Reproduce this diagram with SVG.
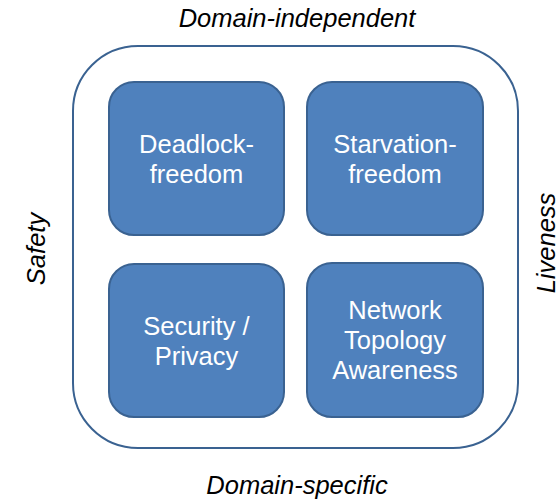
<svg xmlns="http://www.w3.org/2000/svg" width="559" height="500" viewBox="0 0 559 500">
<style>
.box{fill:#4F81BD;stroke:#3A6291;stroke-width:2}
.bt{font-family:"Liberation Sans",Arial,sans-serif;font-size:25.5px;fill:#fff;text-anchor:middle}
.lab{font-family:"Liberation Sans",Arial,sans-serif;font-size:25.5px;font-style:italic;fill:#000;text-anchor:middle}
</style>
<rect width="559" height="500" fill="#fff"/>
<g id="frame"><rect x="73" y="46" width="445" height="402" rx="65" ry="65" fill="none" stroke="#3A6291" stroke-width="2"/></g>
<g id="connectors"></g>
<g id="deadlock"><rect class="box" x="109" y="82" width="175" height="153" rx="25"/>
<text class="bt" x="196.5" y="153">Deadlock-</text><text class="bt" x="196.5" y="183">freedom</text></g>
<g id="starvation"><rect class="box" x="307" y="82" width="176" height="153" rx="25"/>
<text class="bt" x="395" y="153">Starvation-</text><text class="bt" x="395" y="183">freedom</text></g>
<g id="security"><rect class="box" x="109" y="264" width="175" height="153" rx="25"/>
<text class="bt" x="196.5" y="335">Security /</text><text class="bt" x="196.5" y="365">Privacy</text></g>
<g id="network"><rect class="box" x="307" y="263" width="176" height="154" rx="25"/>
<text class="bt" x="395" y="319">Network</text><text class="bt" x="395" y="349">Topology</text><text class="bt" x="395" y="379">Awareness</text></g>
<g id="labels">
<text class="lab" x="297" y="27">Domain-independent</text>
<text class="lab" x="297" y="494">Domain-specific</text>
<text class="lab" transform="translate(45,249) rotate(-90)">Safety</text>
<text class="lab" transform="translate(555,243) rotate(-90)">Liveness</text>
</g>
</svg>
